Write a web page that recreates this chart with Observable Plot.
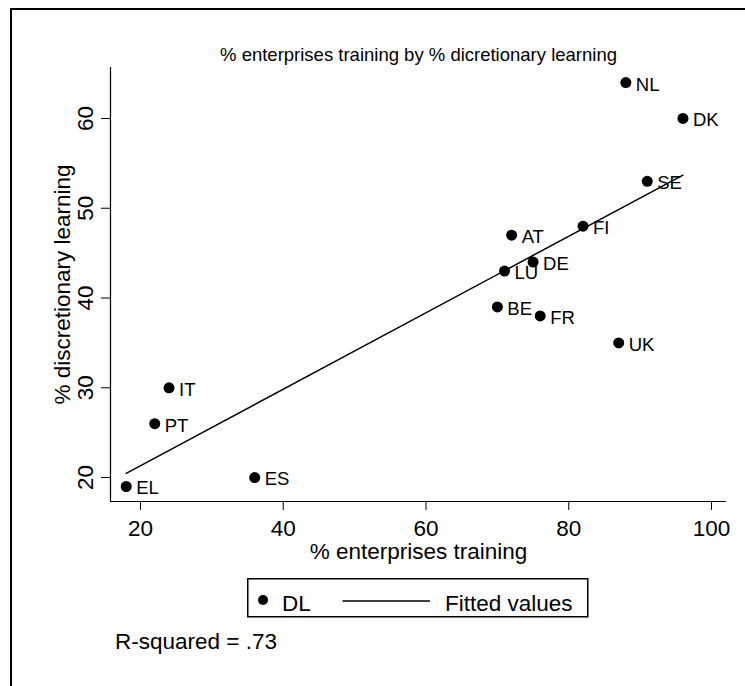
<!DOCTYPE html>
<html><head><meta charset="utf-8">
<script src="https://cdn.jsdelivr.net/npm/d3@7"></script>
<script src="https://cdn.jsdelivr.net/npm/@observablehq/plot@0.6"></script>
<style>
html,body{margin:0;padding:0;background:#fff;overflow:hidden;}
#wrap{position:relative;width:745px;height:686px;overflow:hidden;background:#fff;font-family:"Liberation Sans",Arial,Helvetica,sans-serif;}
#chart{position:absolute;left:0;top:0;}
#overlay{position:absolute;left:0;top:0;}
#border{position:absolute;left:10px;top:8px;width:900px;height:900px;border:2px solid #000;box-sizing:border-box;pointer-events:none;}
</style></head><body>
<div id="wrap"><div id="chart"></div><svg id="overlay" width="745" height="686"></svg><div id="border"></div></div>
<script>
// ---- data ----
const countries = ["NL","DK","SE","FI","AT","DE","LU","BE","FR","UK","IT","PT","EL","ES"];
const trainingPct = [88,96,91,82,72,75,71,70,76,87,24,22,18,36];
const discretionaryPct = [64,60,53,48,47,44,43,39,38,35,30,26,19,20];
const xTicks = [20,40,60,80,100];
const yTicks = [20,30,40,50,60];
const xDomain = [15.8, 102.1];
const yDomain = [17.33, 65.68];
const titleText = "% enterprises training by % dicretionary learning";
const xLabel = "% enterprises training";
const yLabel = "% discretionary learning";
const legendLabels = ["DL", "Fitted values"];
const rSquaredText = "R-squared = .73";

const data = countries.map((c, i) => ({code: c, x: trainingPct[i], y: discretionaryPct[i]}));
const FONT = "Liberation Sans, Arial, Helvetica, sans-serif";

const chart = Plot.plot({
  width: 745, height: 686,
  marginLeft: 110, marginRight: 19, marginTop: 67, marginBottom: 185,
  style: {fontFamily: FONT, background: "transparent", color: "#000"},
  x: {domain: xDomain},
  y: {domain: yDomain},
  marks: [
    Plot.ruleX([xDomain[0]], {stroke: "#000", strokeWidth: 1.2}),
    Plot.ruleY([yDomain[0]], {stroke: "#000", strokeWidth: 1.2}),
    Plot.axisX({ticks: xTicks, tickSize: 9, tickPadding: 10, fontSize: 22.5, label: null, stroke: "#000"}),
    Plot.axisY({ticks: yTicks, tickSize: 9, tickFormat: () => "", label: null, stroke: "#000"}),
    Plot.text(yTicks, {y: d => d, text: d => String(d), frameAnchor: "left", dx: -25, rotate: -90, fontSize: 22.5, textAnchor: "middle", lineAnchor: "middle"}),
    Plot.linearRegressionY(data, {x: "x", y: "y", ci: 0, stroke: "#000", strokeWidth: 1.5}),
    Plot.dot(data, {x: "x", y: "y", r: 5.5, fill: "#000", stroke: null}),
    Plot.text(data, {x: "x", y: "y", text: "code", dx: 10, dy: 2, textAnchor: "start", fontSize: 18.5}),
    Plot.text([titleText], {frameAnchor: "top", dy: -12, fontSize: 18.5, lineAnchor: "middle"}),
    Plot.text([xLabel], {frameAnchor: "bottom", dy: 50, fontSize: 22.5, lineAnchor: "middle"}),
    Plot.text([yLabel], {frameAnchor: "left", dx: -48, rotate: -90, fontSize: 22.5, textAnchor: "middle", lineAnchor: "middle"})
  ]
});
document.getElementById("chart").appendChild(chart);

// ---- legend and note ----
const ov = d3.select("#overlay").style("font-family", FONT);
ov.append("rect").attr("x", 247.75).attr("y", 578.75).attr("width", 340).attr("height", 38)
  .attr("fill", "none").attr("stroke", "#000").attr("stroke-width", 1.5);
ov.append("circle").attr("cx", 263).attr("cy", 600).attr("r", 5).attr("fill", "#000");
ov.append("text").attr("x", 282).attr("y", 610.5).attr("font-size", 22.5).text(legendLabels[0]);
ov.append("line").attr("x1", 342.5).attr("x2", 430).attr("y1", 601).attr("y2", 601)
  .attr("stroke", "#000").attr("stroke-width", 1.5);
ov.append("text").attr("x", 445).attr("y", 610.5).attr("font-size", 22.5).text(legendLabels[1]);
ov.append("text").attr("x", 115).attr("y", 649).attr("font-size", 22.5).text(rSquaredText);
</script>
</body></html>
